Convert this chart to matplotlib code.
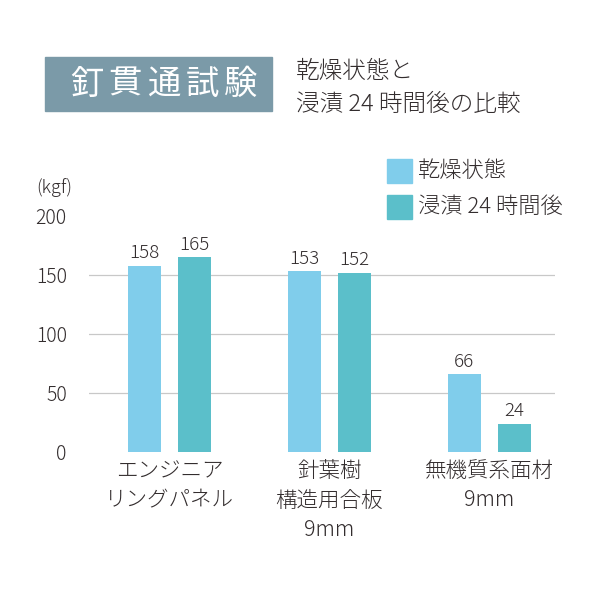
import numpy as np
import matplotlib
matplotlib.use("Agg")
from matplotlib import pyplot as plt
from matplotlib.patches import Rectangle

plt.rcParams['font.family'] = ['Noto Sans CJK JP', 'DejaVu Sans']
plt.rcParams['font.weight'] = 'light'

# data
categories = ['エンジニア\nリングパネル', '針葉樹\n構造用合板\n9mm', '無機質系面材\n9mm']
series_names = ['乾燥状態', '浸漬 24 時間後']
dry = [158, 153, 66]
soaked = [165, 152, 24]
yticks = [0, 50, 100, 150, 200]

title = '釘貫通試験'
subtitle = '乾燥状態と\n浸漬 24 時間後の比較'

c_dry = '#80cdeb'
c_soak = '#5bbfca'
c_text = '#332d2e'
c_box = '#7b9aa8'

W = H = 600.0
fig = plt.figure(figsize=(6, 6), dpi=100)

# axes placed in pixel terms
left, right, bottom, top = 89, 555, 452, 216
ax = fig.add_axes([left / W, 1 - bottom / H, (right - left) / W, (bottom - top) / H])

x = np.arange(len(categories))
w = 0.206
off = 0.156
ax.bar(x - off, dry, w, color=c_dry, label=series_names[0], zorder=3)
ax.bar(x + off, soaked, w, color=c_soak, label=series_names[1], zorder=3)

for xi, v in zip(x - off, dry):
    ax.text(xi, v + 3, str(v), ha='center', va='bottom', fontsize=13.5, color=c_text)
for xi, v in zip(x + off, soaked):
    ax.text(xi, v + 3, str(v), ha='center', va='bottom', fontsize=13.5, color=c_text)

ax.set_xlim(-0.503, 2.41)
ax.set_ylim(0, 200)
ax.set_yticks(yticks)
ax.set_yticklabels([str(t) for t in yticks], fontsize=14, color=c_text)
ax.set_xticks(x)
ax.set_xticklabels(categories, fontsize=15.5, color=c_text, linespacing=1.42, va='top')
ax.tick_params(axis='both', length=0)
ax.tick_params(axis='y', pad=16)
ax.tick_params(axis='x', pad=6)
for s in ax.spines.values():
    s.set_visible(False)
ax.yaxis.grid(True, color='#c8c8c8', linewidth=0.9, zorder=0)
gl = ax.yaxis.get_gridlines()
gl[0].set_visible(False)
gl[-1].set_visible(False)

fig.text(54 / W, 1 - 188 / H, '(kgf)', ha='center', va='center', fontsize=13, color=c_text)

# title box, characters spaced out by hand
fig.patches.append(Rectangle((45 / W, 1 - 111 / H), (272 - 45) / W, (111 - 57) / H,
                             transform=fig.transFigure, color=c_box, zorder=0))
for i, ch in enumerate(title):
    fig.text((86.5 + 38.5 * i) / W, 1 - 84 / H, ch, ha='center', va='center',
             fontsize=24, color='white', fontweight='normal')
fig.text(296 / W, 1 - 88 / H, subtitle, ha='left', va='center', fontsize=17,
         color=c_text, linespacing=1.42)

# legend drawn by hand
for i, (name, c) in enumerate(zip(series_names, [c_dry, c_soak])):
    yc = 171 + 36 * i
    fig.patches.append(Rectangle((387 / W, 1 - (yc + 12) / H), 25 / W, 24 / H,
                                 transform=fig.transFigure, color=c))
    fig.text(418 / W, 1 - yc / H, name, ha='left', va='center', fontsize=16, color=c_text)

fig.savefig('out.png', dpi=100, facecolor='white')
